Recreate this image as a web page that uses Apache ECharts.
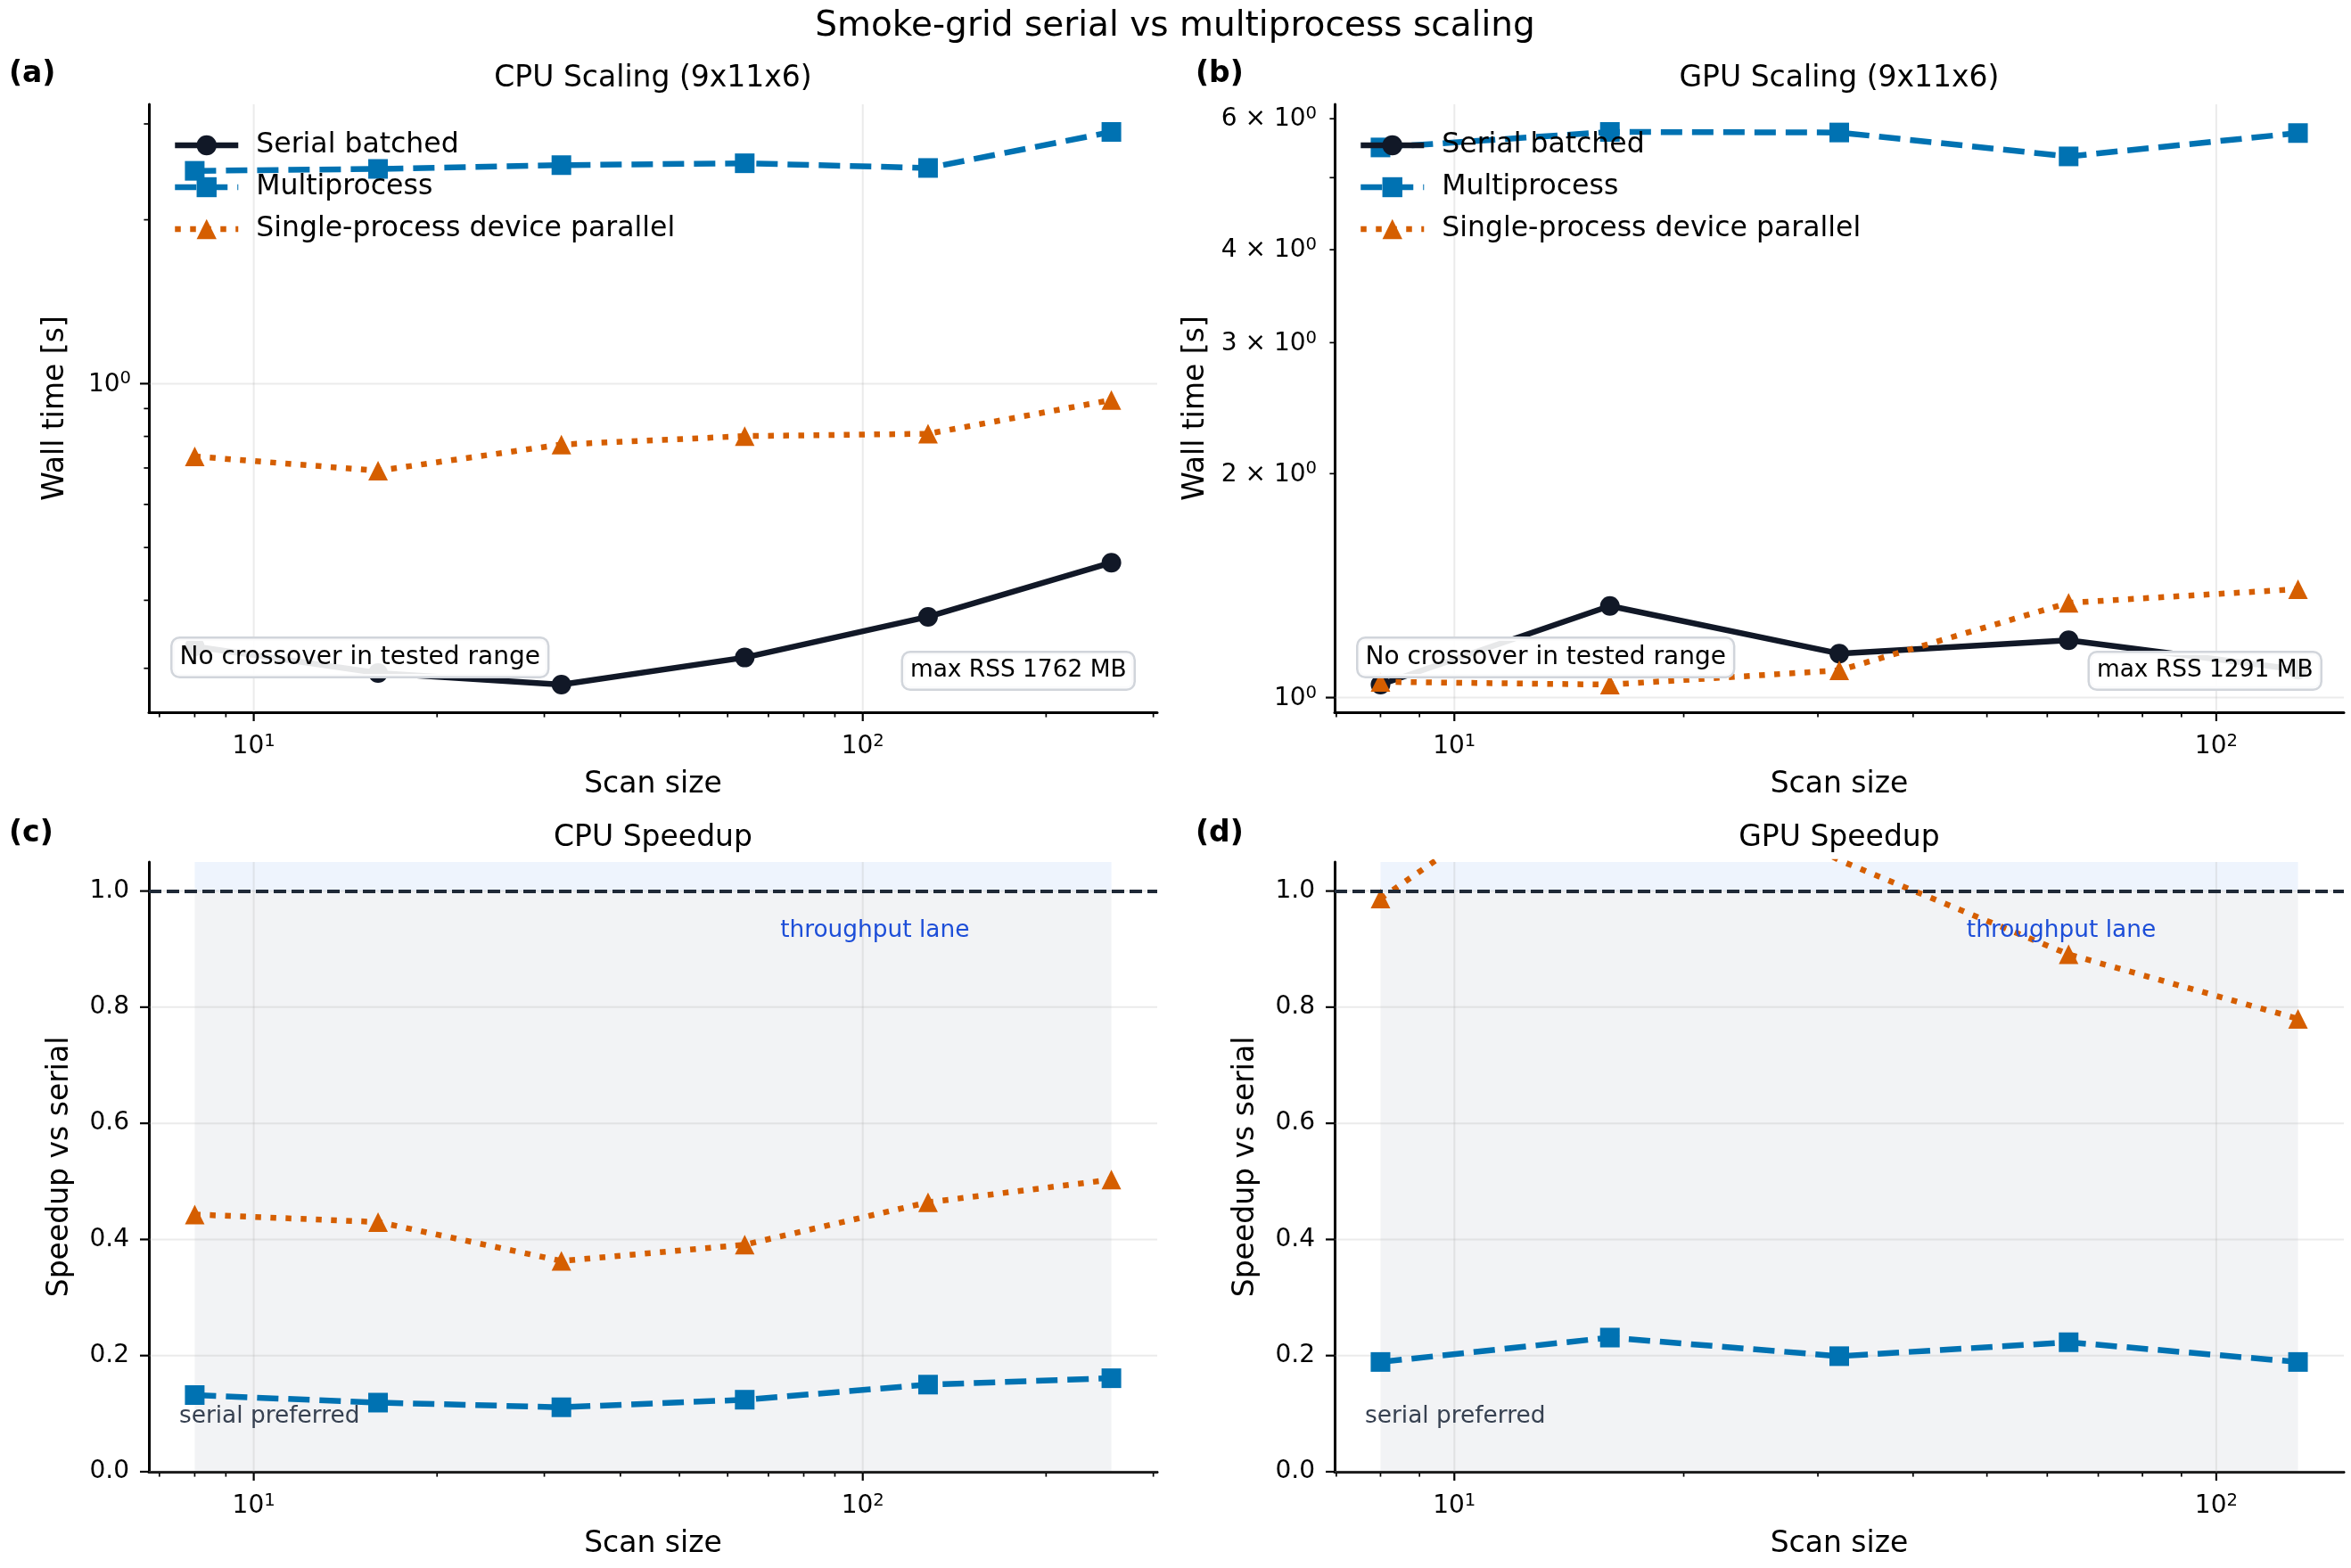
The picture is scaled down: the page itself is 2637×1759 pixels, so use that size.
<!DOCTYPE html>
<html>
<head>
<meta charset="utf-8">
<title>Smoke-grid serial vs multiprocess scaling</title>
<script src="https://cdn.jsdelivr.net/npm/echarts@6/dist/echarts.min.js"></script>
<style>
  html, body { margin: 0; padding: 0; background: #fff; }
  #chart { width: 2637px; height: 1759px; }
</style>
</head>
<body>
<div id="chart"></div>
<script>
// scan sizes on the x axis
const cpuSizes = [8, 16, 32, 64, 128, 256];
const gpuSizes = [8, 16, 32, 64, 128];

// wall time [s]
const cpuSerial = [0.329, 0.294, 0.280, 0.314, 0.373, 0.469];
const cpuMulti = [2.46, 2.48, 2.52, 2.54, 2.49, 2.90];
const cpuSingle = [0.735, 0.692, 0.773, 0.801, 0.809, 0.933];
const gpuSerial = [1.041, 1.328, 1.146, 1.194, 1.090];
const gpuMulti = [5.49, 5.76, 5.75, 5.34, 5.74];
const gpuSingle = [1.05, 1.041, 1.088, 1.341, 1.399];

// speedup vs serial
const cpuSpeedMulti = [0.132, 0.119, 0.111, 0.124, 0.150, 0.161];
const cpuSpeedSingle = [0.443, 0.430, 0.363, 0.391, 0.464, 0.503];
const gpuSpeedMulti = [0.189, 0.231, 0.199, 0.223, 0.189];
const gpuSpeedSingle = [0.987, 1.26, 1.053, 0.891, 0.78];

// ticks
const xMajorTicks = [10, 100];
const xMinorTicks = [7, 8, 9, 20, 30, 40, 50, 60, 70, 80, 90, 200, 300];
const wallMajorTicks = [1];
const wallMinorTicks = [0.3, 0.4, 0.5, 0.6, 0.7, 0.8, 0.9, 2, 3, 4, 5, 6];
const gpuWallTickLabels = [2, 3, 4, 6];
const speedTicks = [0, 0.2, 0.4, 0.6, 0.8, 1.0];
const speedRange = [0, 1.05];

const FONT = 'DejaVu Sans';
const C_SERIAL = '#111827';
const C_MULTI = '#0072B2';
const C_SINGLE = '#D55E00';
const GRID_LINE = 'rgba(176,176,176,0.26)';

const grids = [
  {left: 167, top: 117, width: 1131, height: 682},
  {left: 1497, top: 117, width: 1132, height: 682},
  {left: 167, top: 967, width: 1131, height: 684},
  {left: 1497, top: 967, width: 1132, height: 684}
];

// matplotlib style 5% margin on a log axis
function logPad (lo, hi) {
  const a = Math.log10(lo), b = Math.log10(hi), m = (b - a) * 0.05;
  return [Math.pow(10, a - m), Math.pow(10, b + m)];
}
const cpuX = logPad(cpuSizes[0], cpuSizes[cpuSizes.length - 1]);
const gpuX = logPad(gpuSizes[0], gpuSizes[gpuSizes.length - 1]);
const cpuAll = cpuSerial.concat(cpuMulti, cpuSingle);
const gpuAll = gpuSerial.concat(gpuMulti, gpuSingle);
const cpuY = logPad(Math.min(...cpuAll), Math.max(...cpuAll));
const gpuY = logPad(Math.min(...gpuAll), Math.max(...gpuAll));

// "10^k" as rich text with a raised exponent
const powRich = {
  b: {fontSize: 28, fontFamily: FONT, color: '#000', lineHeight: 30, verticalAlign: 'bottom'},
  s: {fontSize: 19.6, fontFamily: FONT, color: '#000', lineHeight: 20, verticalAlign: 'top'}
};
function powLabel (v) {
  const e = Math.log10(v);
  if (Math.abs(e - Math.round(e)) > 1e-6) return '';
  return '{b|10}{s|' + Math.round(e) + '}';
}

function xAxis (i, range) {
  return {
    type: 'log', gridIndex: i, min: range[0], max: range[1],
    name: 'Scan size', nameLocation: 'middle', nameGap: 65,
    nameTextStyle: {fontSize: 33, color: '#000', fontFamily: FONT},
    axisLine: {show: true, lineStyle: {color: '#000', width: 3}},
    axisTick: {show: false}, minorTick: {show: false}, splitLine: {show: false},
    axisLabel: {fontSize: 28, color: '#000', margin: 23, formatter: powLabel, rich: powRich}
  };
}
function yLogAxis (i, range, gap) {
  return {
    type: 'log', gridIndex: i, min: range[0], max: range[1],
    name: 'Wall time [s]', nameLocation: 'middle', nameGap: gap,
    nameTextStyle: {fontSize: 33, color: '#000', fontFamily: FONT},
    axisLine: {show: true, lineStyle: {color: '#000', width: 3}},
    axisTick: {show: false}, minorTick: {show: false}, splitLine: {show: false},
    axisLabel: {fontSize: 28, color: '#000', margin: 20, formatter: powLabel, rich: powRich}
  };
}
function ySpeedAxis (i) {
  return {
    type: 'value', gridIndex: i, min: speedRange[0], max: speedRange[1], interval: 0.2,
    name: 'Speedup vs serial', nameLocation: 'middle', nameGap: 83,
    nameTextStyle: {fontSize: 33, color: '#000', fontFamily: FONT},
    axisLine: {show: true, onZero: false, lineStyle: {color: '#000', width: 3}},
    axisTick: {show: false}, splitLine: {show: false},
    axisLabel: {
      fontSize: 28, color: '#000', margin: 22,
      formatter: v => (Math.abs(v * 5 - Math.round(v * 5)) < 1e-6 ? v.toFixed(1) : '')
    }
  };
}

// ticks + grid lines, drawn through the axes scales
function renderTicks (params, api) {
  const cs = params.coordSys;
  const kind = api.value(2);
  const p = api.coord([api.value(0), api.value(1)]);
  const bottom = cs.y + cs.height;
  const els = [];
  if (kind < 2) {
    const major = kind === 0;
    if (major) {
      els.push({type: 'line', shape: {x1: p[0], y1: cs.y, x2: p[0], y2: bottom}, style: {stroke: GRID_LINE, lineWidth: 2}});
    }
    els.push({type: 'line', shape: {x1: p[0], y1: bottom, x2: p[0], y2: bottom + (major ? 10 : 5.6)},
      style: {stroke: '#000', lineWidth: major ? 2.2 : 1.7}});
  } else {
    const major = kind === 2;
    if (major) {
      els.push({type: 'line', shape: {x1: cs.x, y1: p[1], x2: cs.x + cs.width, y2: p[1]}, style: {stroke: GRID_LINE, lineWidth: 2}});
    }
    els.push({type: 'line', shape: {x1: cs.x, y1: p[1], x2: cs.x - (major ? 10 : 5.6), y2: p[1]},
      style: {stroke: '#000', lineWidth: major ? 2.2 : 1.7}});
    const lab = api.value(3);
    if (lab) {
      els.push({type: 'text', x: cs.x - 20, y: p[1],
        style: {text: '{b|' + lab + ' \u00d7 10}{s|0}', rich: powRich, fill: '#000', fontSize: 28, fontFamily: FONT,
          align: 'right', verticalAlign: 'middle'}});
    }
  }
  return {type: 'group', children: els};
}
function tickSeries (i, xr, yr, yMaj, yMin, yLab) {
  const inX = v => v >= xr[0] && v <= xr[1];
  const inY = v => v >= yr[0] && v <= yr[1];
  const data = []
    .concat(xMajorTicks.filter(inX).map(v => [v, yr[0], 0, 0]))
    .concat(xMinorTicks.filter(inX).map(v => [v, yr[0], 1, 0]))
    .concat(yMaj.filter(inY).map(v => [xr[0], v, 2, 0]))
    .concat(yMin.filter(inY).map(v => [xr[0], v, 3, yLab.indexOf(v) >= 0 ? v : 0]));
  return {
    type: 'custom', xAxisIndex: i, yAxisIndex: i, data: data,
    renderItem: renderTicks, silent: true, clip: false, z: 1, animation: false
  };
}

const LINE_W = 6.5;
function line (name, i, xs, ys, color, symbol, dash) {
  return {
    name: name, type: 'line', xAxisIndex: i, yAxisIndex: i,
    data: xs.map((x, k) => [x, ys[k]]),
    symbol: symbol, symbolSize: 22, showSymbol: true,
    lineStyle: {color: color, width: LINE_W, type: dash},
    itemStyle: {color: color, borderWidth: 0},
    z: 3, animation: false, silent: true
  };
}
const DASH = [24, 11];
const DOT = [6.5, 10.5];

function lanes (sizes) {
  const x0 = sizes[0], x1 = sizes[sizes.length - 1];
  return {
    markArea: {
      silent: true, z: 0,
      data: [
        [{xAxis: x0, yAxis: 0, itemStyle: {color: '#f2f3f5'}}, {xAxis: x1, yAxis: 1}],
        [{xAxis: x0, yAxis: 1, itemStyle: {color: '#eef4fd'}}, {xAxis: x1, yAxis: speedRange[1]}]
      ]
    },
    markLine: {
      silent: true, symbol: 'none', label: {show: false},
      lineStyle: {color: '#1f2937', width: 4.2, type: [14, 6]},
      data: [{yAxis: 1}]
    }
  };
}

const series = [
  line('Serial batched', 0, cpuSizes, cpuSerial, C_SERIAL, 'circle', 'solid'),
  line('Multiprocess', 0, cpuSizes, cpuMulti, C_MULTI, 'rect', DASH),
  line('Single-process device parallel', 0, cpuSizes, cpuSingle, C_SINGLE, 'triangle', DOT),
  line('Serial batched', 1, gpuSizes, gpuSerial, C_SERIAL, 'circle', 'solid'),
  line('Multiprocess', 1, gpuSizes, gpuMulti, C_MULTI, 'rect', DASH),
  line('Single-process device parallel', 1, gpuSizes, gpuSingle, C_SINGLE, 'triangle', DOT),
  Object.assign(line('Multiprocess', 2, cpuSizes, cpuSpeedMulti, C_MULTI, 'rect', DASH), lanes(cpuSizes)),
  line('Single-process device parallel', 2, cpuSizes, cpuSpeedSingle, C_SINGLE, 'triangle', DOT),
  Object.assign(line('Multiprocess', 3, gpuSizes, gpuSpeedMulti, C_MULTI, 'rect', DASH), lanes(gpuSizes)),
  line('Single-process device parallel', 3, gpuSizes, gpuSpeedSingle, C_SINGLE, 'triangle', DOT),
  tickSeries(0, cpuX, cpuY, wallMajorTicks, wallMinorTicks, []),
  tickSeries(1, gpuX, gpuY, wallMajorTicks, wallMinorTicks, gpuWallTickLabels),
  tickSeries(2, cpuX, speedRange, speedTicks, [], []),
  tickSeries(3, gpuX, speedRange, speedTicks, [], [])
];

const legendNames = ['Serial batched', 'Multiprocess', 'Single-process device parallel'];
function legend (left) {
  return {
    left: left, top: 147, orient: 'vertical', padding: 0,
    data: legendNames, selectedMode: false,
    itemWidth: 71, itemHeight: 28, itemGap: 15,
    lineStyle: {width: LINE_W},
    textStyle: {fontSize: 31.5, color: '#000', fontFamily: FONT, lineHeight: 32, padding: [0, 0, 0, 15]}
  };
}

function text (x, y, str, size, opts) {
  return {
    type: 'text', x: x, y: y, z: 100, silent: true,
    style: Object.assign({text: str, fill: '#000', fontSize: size, fontFamily: FONT,
      align: 'center', verticalAlign: 'middle'}, opts || {})
  };
}
function boxText (x, y, str, size, align) {
  return text(x, y, str, size, {
    align: align, backgroundColor: 'rgba(255,255,255,0.9)', borderColor: '#d1d5db',
    borderWidth: 2.5, borderRadius: 8, padding: [7, 8]
  });
}
function cx (g) { return g.left + g.width / 2; }
function right (g) { return g.left + g.width; }

const graphics = [
  text(1318, 30, 'Smoke-grid serial vs multiprocess scaling', 39),
  text(cx(grids[0]), 88, 'CPU Scaling (9x11x6)', 33),
  text(cx(grids[1]), 88, 'GPU Scaling (9x11x6)', 33),
  text(cx(grids[2]), 940, 'CPU Speedup', 33),
  text(cx(grids[3]), 940, 'GPU Speedup', 33),
  text(10, 83, '(a)', 33, {align: 'left', fontWeight: 'bold'}),
  text(1341, 83, '(b)', 33, {align: 'left', fontWeight: 'bold'}),
  text(10, 935, '(c)', 33, {align: 'left', fontWeight: 'bold'}),
  text(1341, 935, '(d)', 33, {align: 'left', fontWeight: 'bold'}),
  boxText(grids[0].left + 26.5, 737.5, 'No crossover in tested range', 28, 'left'),
  boxText(right(grids[0]) - 26.5, 752.5, 'max RSS 1762 MB', 26.4, 'right'),
  boxText(grids[1].left + 26.5, 737.5, 'No crossover in tested range', 28, 'left'),
  boxText(right(grids[1]) - 26.5, 752.5, 'max RSS 1291 MB', 26.4, 'right'),
  text(grids[2].left + 0.72 * grids[2].width, 1044, 'throughput lane', 26.4, {fill: '#1d4ed8'}),
  text(grids[3].left + 0.72 * grids[3].width, 1044, 'throughput lane', 26.4, {fill: '#1d4ed8'}),
  text(grids[2].left + 0.03 * grids[2].width, 1589, 'serial preferred', 26.4, {fill: '#374151', align: 'left'}),
  text(grids[3].left + 0.03 * grids[3].width, 1589, 'serial preferred', 26.4, {fill: '#374151', align: 'left'})
];

const chart = echarts.init(document.getElementById('chart'), null, {renderer: 'canvas'});
chart.setOption({
  backgroundColor: '#fff',
  animation: false,
  textStyle: {fontFamily: FONT},
  grid: grids.map(g => Object.assign({outerBoundsMode: 'none', containLabel: false}, g)),
  xAxis: [xAxis(0, cpuX), xAxis(1, gpuX), xAxis(2, cpuX), xAxis(3, gpuX)],
  yAxis: [yLogAxis(0, cpuY, 88), yLogAxis(1, gpuY, 139), ySpeedAxis(2), ySpeedAxis(3)],
  legend: [legend(grids[0].left + 26), legend(grids[1].left + 26)],
  graphic: {elements: graphics},
  series: series
});
</script>
</body>
</html>
